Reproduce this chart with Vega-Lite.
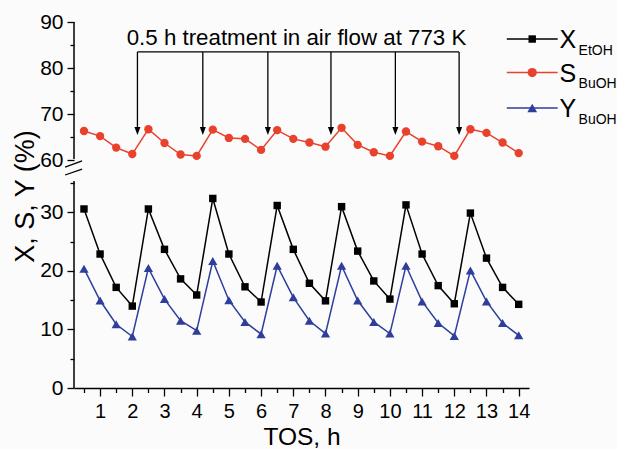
{
"$schema": "https://vega.github.io/schema/vega-lite/v6.json",
"autosize": {"type": "none"},
"padding": {"left": 74, "top": 22, "right": 88, "bottom": 61},
"width": 455, "height": 366,
"background": "#fcfbfb",
"config": {
  "view": {"stroke": null},
  "font": "Liberation Sans",
  "axis": {"labelFont": "Liberation Sans", "titleFont": "Liberation Sans", "labelColor": "black", "titleColor": "black", "tickColor": "black", "domainColor": "black", "grid": false, "titleFontWeight": "normal"}
},
"datasets": {
  "main": [
    {"t":0.5,"series":"X","v":30.6},{"t":1,"series":"X","v":22.9},{"t":1.5,"series":"X","v":17.2},{"t":2,"series":"X","v":14.0},
    {"t":2.5,"series":"X","v":30.6},{"t":3,"series":"X","v":23.7},{"t":3.5,"series":"X","v":18.65},{"t":4,"series":"X","v":15.9},
    {"t":4.5,"series":"X","v":32.4},{"t":5,"series":"X","v":22.9},{"t":5.5,"series":"X","v":17.3},{"t":6,"series":"X","v":14.7},
    {"t":6.5,"series":"X","v":31.2},{"t":7,"series":"X","v":23.7},{"t":7.5,"series":"X","v":17.9},{"t":8,"series":"X","v":14.9},
    {"t":8.5,"series":"X","v":31.0},{"t":9,"series":"X","v":23.4},{"t":9.5,"series":"X","v":18.3},{"t":10,"series":"X","v":15.2},
    {"t":10.5,"series":"X","v":31.3},{"t":11,"series":"X","v":22.9},{"t":11.5,"series":"X","v":17.5},{"t":12,"series":"X","v":14.4},
    {"t":12.5,"series":"X","v":29.9},{"t":13,"series":"X","v":22.2},{"t":13.5,"series":"X","v":17.2},{"t":14,"series":"X","v":14.3},
    {"t":0.5,"series":"S","v":66.3},{"t":1,"series":"S","v":65.2},{"t":1.5,"series":"S","v":62.7},{"t":2,"series":"S","v":61.3},
    {"t":2.5,"series":"S","v":66.7},{"t":3,"series":"S","v":63.7},{"t":3.5,"series":"S","v":61.2},{"t":4,"series":"S","v":60.9},
    {"t":4.5,"series":"S","v":66.6},{"t":5,"series":"S","v":64.8},{"t":5.5,"series":"S","v":64.6},{"t":6,"series":"S","v":62.2},
    {"t":6.5,"series":"S","v":66.5},{"t":7,"series":"S","v":64.6},{"t":7.5,"series":"S","v":63.8},{"t":8,"series":"S","v":62.9},
    {"t":8.5,"series":"S","v":67.0},{"t":9,"series":"S","v":63.3},{"t":9.5,"series":"S","v":61.7},{"t":10,"series":"S","v":60.9},
    {"t":10.5,"series":"S","v":66.2},{"t":11,"series":"S","v":64.0},{"t":11.5,"series":"S","v":63.0},{"t":12,"series":"S","v":60.9},
    {"t":12.5,"series":"S","v":66.7},{"t":13,"series":"S","v":65.9},{"t":13.5,"series":"S","v":63.8},{"t":14,"series":"S","v":61.5},
    {"t":0.5,"series":"Y","v":20.4},{"t":1,"series":"Y","v":14.95},{"t":1.5,"series":"Y","v":10.9},{"t":2,"series":"Y","v":8.8},
    {"t":2.5,"series":"Y","v":20.5},{"t":3,"series":"Y","v":15.2},{"t":3.5,"series":"Y","v":11.5},{"t":4,"series":"Y","v":9.8},
    {"t":4.5,"series":"Y","v":21.7},{"t":5,"series":"Y","v":15.0},{"t":5.5,"series":"Y","v":11.3},{"t":6,"series":"Y","v":9.2},
    {"t":6.5,"series":"Y","v":20.9},{"t":7,"series":"Y","v":15.5},{"t":7.5,"series":"Y","v":11.5},{"t":8,"series":"Y","v":9.3},
    {"t":8.5,"series":"Y","v":20.9},{"t":9,"series":"Y","v":14.95},{"t":9.5,"series":"Y","v":11.3},{"t":10,"series":"Y","v":9.3},
    {"t":10.5,"series":"Y","v":20.9},{"t":11,"series":"Y","v":14.8},{"t":11.5,"series":"Y","v":11.1},{"t":12,"series":"Y","v":8.9},
    {"t":12.5,"series":"Y","v":20.1},{"t":13,"series":"Y","v":14.8},{"t":13.5,"series":"Y","v":11.1},{"t":14,"series":"Y","v":9.0}
  ],
  "treat": [{"t":2.16},{"t":4.19},{"t":6.21},{"t":8.17},{"t":10.17},{"t":12.15}]
},
"resolve": {"axis": {"x": "independent", "y": "independent"}},
"layer": [
  {
    "data": {"name": "main"},
    "mark": {"type": "line", "strokeWidth": 1.5},
    "encoding": {
      "x": {"field": "t", "type": "quantitative",
        "scale": {"domain": [0.19, 14.32], "nice": false, "zero": false},
        "axis": {"orient": "bottom", "values": [1,2,3,4,5,6,7,8,9,10,11,12,13,14], "tickSize": 8, "tickWidth": 1.3, "domainWidth": 1.5, "labelFontSize": 20, "labelPadding": 5, "labelFlush": false, "labelOverlap": false, "title": "TOS, h", "titleFontSize": 24.5, "titleBaseline": "alphabetic", "titleY": 56.8}},
      "y": {"field": "v", "type": "quantitative",
        "scale": {"domain": [0, 35.4, 59.7, 90], "range": [366, 158.9, 139.4, 0], "nice": false, "zero": false},
        "axis": {"orient": "left", "values": [0,10,20,30,60,70,80,90], "domain": false, "tickSize": 7, "tickWidth": 1.3, "labelFontSize": 21, "labelPadding": 4, "labelFlush": false, "labelOverlap": false, "title": "X, S, Y (%)", "titleFontSize": 27, "titleBaseline": "alphabetic", "titleX": -41, "titleY": 174}},
      "color": {"field": "series", "type": "nominal",
        "scale": {"domain": ["X", "S", "Y"], "range": ["#000000", "#e8412c", "#2d3e9c"]},
        "legend": null}
    }
  },
  {
    "data": {"name": "main"},
    "mark": {"type": "point", "filled": true, "opacity": 1},
    "encoding": {
      "x": {"field": "t", "type": "quantitative",
        "axis": {"orient": "bottom", "values": [0.5,1.5,2.5,3.5,4.5,5.5,6.5,7.5,8.5,9.5,10.5,11.5,12.5,13.5], "tickSize": 4.5, "tickWidth": 1.3, "labels": false, "domain": false, "title": null}},
      "y": {"field": "v", "type": "quantitative",
        "axis": {"orient": "left", "values": [5,15,25,35,65,75,85], "tickSize": 4, "tickWidth": 1.3, "labels": false, "domain": false, "title": null}},
      "color": {"field": "series", "type": "nominal", "legend": null},
      "shape": {"field": "series", "type": "nominal", "scale": {"domain": ["X", "S", "Y"], "range": ["square", "circle", "triangle-up"]}, "legend": null},
      "size": {"field": "series", "type": "nominal", "scale": {"domain": ["X", "S", "Y"], "range": [55, 85, 95]}, "legend": null}
    }
  },
  {
    "data": {"values": [{}]},
    "mark": {"type": "rule", "strokeWidth": 1.5, "color": "black"},
    "encoding": {"x": {"datum": 0.19, "type": "quantitative", "axis": null}, "y": {"datum": 0, "type": "quantitative", "axis": null}, "y2": {"datum": 35.4}}
  },
  {
    "data": {"values": [{}]},
    "mark": {"type": "rule", "strokeWidth": 1.5, "color": "black"},
    "encoding": {"x": {"datum": 0.19, "type": "quantitative", "axis": null}, "y": {"datum": 60.2, "type": "quantitative", "axis": null}, "y2": {"datum": 90}}
  },
  {
    "data": {"values": [{}]},
    "mark": {"type": "rule", "strokeWidth": 1.3, "color": "black"},
    "encoding": {"x": {"datum": -0.086, "type": "quantitative", "axis": null}, "x2": {"datum": 0.441}, "y": {"datum": 52.7, "type": "quantitative", "axis": null}, "y2": {"datum": 59.8}}
  },
  {
    "data": {"values": [{}]},
    "mark": {"type": "rule", "strokeWidth": 1.3, "color": "black"},
    "encoding": {"x": {"datum": -0.086, "type": "quantitative", "axis": null}, "x2": {"datum": 0.441}, "y": {"datum": 42.75, "type": "quantitative", "axis": null}, "y2": {"datum": 50.2}}
  },
  {
    "data": {"name": "treat"},
    "mark": {"type": "rule", "strokeWidth": 1.3, "color": "black"},
    "encoding": {"x": {"field": "t", "type": "quantitative", "axis": null}, "y": {"datum": 83.5, "type": "quantitative", "axis": null}, "y2": {"datum": 67.2}}
  },
  {
    "data": {"name": "treat"},
    "mark": {"type": "rule", "strokeWidth": 1.3, "color": "black"},
    "encoding": {"x": {"aggregate": "min", "field": "t", "type": "quantitative", "axis": null}, "x2": {"aggregate": "max", "field": "t"}, "y": {"datum": 83.5, "type": "quantitative", "axis": null}}
  },
  {
    "data": {"name": "treat"},
    "mark": {"type": "point", "filled": true, "color": "black", "opacity": 1, "size": 100, "shape": "M-0.6,-0.8L0.6,-0.8L0,0.8Z"},
    "encoding": {"x": {"field": "t", "type": "quantitative", "axis": null}, "y": {"datum": 66.3, "type": "quantitative", "axis": null}}
  },
  {
    "data": {"values": [{}]},
    "mark": {"type": "text", "text": "0.5 h treatment in air flow at 773 K", "fontSize": 22.3, "align": "center", "baseline": "alphabetic", "color": "black", "font": "Liberation Sans"},
    "encoding": {"x": {"datum": 7.1, "type": "quantitative", "axis": null}, "y": {"datum": 85.1, "type": "quantitative", "axis": null}}
  },
  {
    "data": {"values": [{}]},
    "encoding": {"y": {"datum": 86.3, "type": "quantitative", "axis": null}},
    "layer": [
      {"mark": {"type": "rule", "color": "#000000", "strokeWidth": 1.5}, "encoding": {"x": {"datum": 13.63, "type": "quantitative", "axis": null}, "x2": {"datum": 15.21}}},
      {"mark": {"type": "point", "filled": true, "shape": "square", "size": 55, "color": "#000000", "opacity": 1}, "encoding": {"x": {"datum": 14.42, "type": "quantitative", "axis": null}}},
      {"mark": {"type": "text", "text": "X", "fontSize": 25, "align": "left", "baseline": "alphabetic", "dy": 9, "color": "black", "font": "Liberation Sans"}, "encoding": {"x": {"datum": 15.27, "type": "quantitative", "axis": null}}},
      {"mark": {"type": "text", "text": "EtOH", "fontSize": 14, "align": "left", "baseline": "alphabetic", "dy": 15.5, "color": "black", "font": "Liberation Sans"}, "encoding": {"x": {"datum": 15.86, "type": "quantitative", "axis": null}}}
    ]
  },
  {
    "data": {"values": [{}]},
    "encoding": {"y": {"datum": 79.0, "type": "quantitative", "axis": null}},
    "layer": [
      {"mark": {"type": "rule", "color": "#e8412c", "strokeWidth": 1.5}, "encoding": {"x": {"datum": 13.63, "type": "quantitative", "axis": null}, "x2": {"datum": 15.21}}},
      {"mark": {"type": "point", "filled": true, "shape": "circle", "size": 85, "color": "#e8412c", "opacity": 1}, "encoding": {"x": {"datum": 14.42, "type": "quantitative", "axis": null}}},
      {"mark": {"type": "text", "text": "S", "fontSize": 25, "align": "left", "baseline": "alphabetic", "dy": 9, "color": "black", "font": "Liberation Sans"}, "encoding": {"x": {"datum": 15.27, "type": "quantitative", "axis": null}}},
      {"mark": {"type": "text", "text": "BuOH", "fontSize": 14, "align": "left", "baseline": "alphabetic", "dy": 15.5, "color": "black", "font": "Liberation Sans"}, "encoding": {"x": {"datum": 15.86, "type": "quantitative", "axis": null}}}
    ]
  },
  {
    "data": {"values": [{}]},
    "encoding": {"y": {"datum": 71.3, "type": "quantitative", "axis": null}},
    "layer": [
      {"mark": {"type": "rule", "color": "#2d3e9c", "strokeWidth": 1.5}, "encoding": {"x": {"datum": 13.63, "type": "quantitative", "axis": null}, "x2": {"datum": 15.21}}},
      {"mark": {"type": "point", "filled": true, "shape": "triangle-up", "size": 95, "color": "#2d3e9c", "opacity": 1}, "encoding": {"x": {"datum": 14.42, "type": "quantitative", "axis": null}}},
      {"mark": {"type": "text", "text": "Y", "fontSize": 25, "align": "left", "baseline": "alphabetic", "dy": 9, "color": "black", "font": "Liberation Sans"}, "encoding": {"x": {"datum": 15.27, "type": "quantitative", "axis": null}}},
      {"mark": {"type": "text", "text": "BuOH", "fontSize": 14, "align": "left", "baseline": "alphabetic", "dy": 15.5, "color": "black", "font": "Liberation Sans"}, "encoding": {"x": {"datum": 15.86, "type": "quantitative", "axis": null}}}
    ]
  }
]
}
